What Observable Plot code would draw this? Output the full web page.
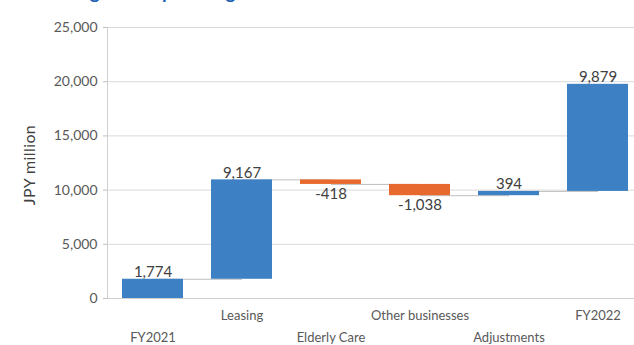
<!DOCTYPE html>
<html>
<head>
<meta charset="utf-8">
<script src="https://cdn.jsdelivr.net/npm/d3@7"></script>
<script src="https://cdn.jsdelivr.net/npm/@observablehq/plot@0.6"></script>
<style>
  html, body { margin: 0; padding: 0; background: #fff; }
  #wrap { position: relative; width: 634px; height: 345px; overflow: hidden; }
  #title { position: absolute; left: 44px; top: -18px; font: bold 19px Lato, sans-serif; letter-spacing: 0.5px; color: #1a5fb4; white-space: nowrap; line-height: 20px; }
  #ylab { position: absolute; left: 28px; top: 165px; transform: translate(-50%, -50%) rotate(-90deg); font: 16px Lato, sans-serif; letter-spacing: 0.4px; color: #404040; white-space: nowrap; }
</style>
</head>
<body>
<div id="wrap">
  <div id="chart"></div>
  <div id="title">Changes in Operating Income</div>
  <div id="ylab">JPY million</div>
</div>
<script>
const categories = ["FY2021", "Leasing", "Elderly Care", "Other businesses", "Adjustments", "FY2022"];
const values = [1774, 9167, -418, -1038, 394, 9879];
const yTicks = [0, 5000, 10000, 15000, 20000, 25000];
const rowOne = ["Leasing", "Other businesses", "FY2022"];
const rowTwo = ["FY2021", "Elderly Care", "Adjustments"];

let run = 0;
const rows = categories.map((c, i) => {
  const start = run;
  const end = run + values[i];
  run = end;
  return {cat: c, value: values[i], start, end, neg: values[i] < 0};
});
const links = rows.slice(0, -1).map((r, i) => ({a: r.cat, b: rows[i + 1].cat, y: r.end}));
const fmt = v => (v < 0 ? "-" : "") + d3.format(",")(Math.abs(v));

const chart = Plot.plot({
  width: 634,
  height: 345,
  marginLeft: 107,
  marginRight: 0,
  marginTop: 27,
  marginBottom: 47,
  style: {fontFamily: "Lato, sans-serif", background: "#fff"},
  x: {domain: categories, range: [107, 642], paddingInner: 0.315, paddingOuter: 0.16, label: null},
  y: {domain: [0, 25000], range: [298, 27], label: null},
  marks: [
    Plot.ruleY(yTicks.slice(1), {stroke: "#d9d9d9"}),
    Plot.frame({anchor: "left", stroke: "#d0d0d0"}),
    Plot.link(links, {x1: "a", x2: "b", y1: "y", y2: "y", stroke: "#bfbfbf", strokeWidth: 1}),
    Plot.barY(rows, {x: "cat", y1: "start", y2: "end", fill: d => d.neg ? "#e8692d" : "#3d80c3"}),
    Plot.text(rows.filter(d => !d.neg), {x: "cat", y: "end", text: d => fmt(d.value), lineAnchor: "bottom", dy: -2, fontSize: 15, fill: "#404040"}),
    Plot.text(rows.filter(d => d.neg), {x: "cat", y: "end", text: d => fmt(d.value), lineAnchor: "top", dy: 4, fontSize: 15, fill: "#404040"}),
    Plot.axisY(yTicks, {tickFormat: d => d3.format(",")(d), tickSize: 4, tickPadding: 6, stroke: "#bfbfbf", fill: "#595959", fontSize: 14, label: null}),
    Plot.axisX(rowOne, {tickSize: 0, tickPadding: 12, fill: "#595959", fontSize: 13, label: null}),
    Plot.axisX(rowTwo, {tickSize: 0, tickPadding: 34, fill: "#595959", fontSize: 13, label: null}),
    Plot.ruleY([0], {stroke: "#d0d0d0"})
  ]
});
document.getElementById("chart").appendChild(chart);
</script>
</body>
</html>
